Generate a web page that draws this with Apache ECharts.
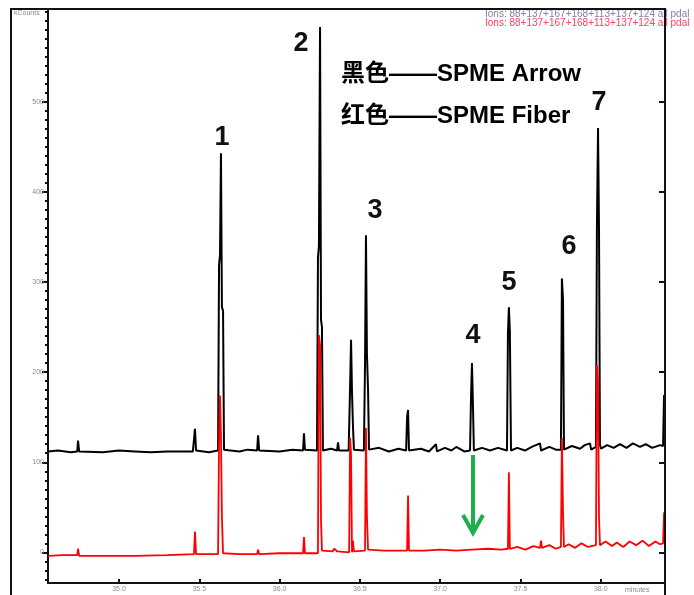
<!DOCTYPE html>
<html>
<head>
<meta charset="utf-8">
<script src="https://cdn.jsdelivr.net/npm/echarts@6/dist/echarts.min.js"></script>
<style>
html,body{margin:0;padding:0;background:#fff;}
#main{width:694px;height:595px;}
</style>
</head>
<body>
<div id="main"></div>
<script>
// 时间刻度 (minutes)
var xTicks = [35.0, 35.5, 36.0, 36.5, 37.0, 37.5, 38.0];
var yTicks = [0, 100, 200, 300, 400, 500];
var yMinor = [-30,-20,-10,10,20,30,40,50,60,70,80,90,110,120,130,140,150,160,170,180,190,
              210,220,230,240,250,260,270,280,290,310,320,330,340,350,360,370,380,390,
              410,420,430,440,450,460,470,480,490,510,520,530,540,550,560,570,580,590,600];

// 黑色 SPME Arrow  [minutes, kCounts]
var blackTrace = [
  [34.558,112],[34.620,113],[34.700,111],[34.740,112],[34.745,124],[34.752,112],[34.900,111],[35.000,113],
  [35.100,112],[35.200,111],[35.300,112],[35.460,112],[35.467,125],[35.473,137],[35.480,113],[35.560,111],
  [35.617,113],[35.623,319],[35.629,330],[35.635,443],[35.641,272],[35.648,268],[35.654,114],[35.750,112],
  [35.800,114],[35.860,113],[35.866,130],[35.873,113],[36.000,112],[36.080,114],[36.146,113],[36.152,132],
  [36.158,114],[36.233,113],[36.239,327],[36.245,340],[36.252,583],[36.258,258],[36.264,250],[36.270,113],
  [36.320,115],[36.358,113],[36.364,122],[36.370,113],[36.430,113],[36.439,183],[36.445,236],[36.451,178],
  [36.457,140],[36.463,114],[36.525,113],[36.532,208],[36.538,352],[36.544,220],[36.551,180],[36.557,114],
  [36.620,116],[36.680,112],[36.740,115],[36.788,113],[36.794,150],[36.800,158],[36.806,113],[36.880,115],
  [36.930,112],[36.974,120],[36.980,112],[37.030,116],[37.070,113],[37.100,117],[37.150,112],[37.186,113],
  [37.192,171],[37.198,210],[37.204,165],[37.210,113],[37.260,116],[37.310,113],[37.360,116],[37.416,113],
  [37.422,243],[37.428,272],[37.434,245],[37.441,113],[37.480,116],[37.528,113],[37.570,117],[37.622,121],
  [37.628,113],[37.680,117],[37.720,114],[37.752,114],[37.758,304],[37.765,280],[37.771,114],[37.820,118],
  [37.871,115],[37.900,119],[37.933,121],[37.940,114],[37.970,117],[37.976,360],[37.983,471],[37.989,360],
  [37.995,120],[38.001,115],[38.040,119],[38.080,116],[38.120,120],[38.160,116],[38.200,121],[38.244,117],
  [38.280,120],[38.320,116],[38.369,119],[38.388,118],[38.394,174],[38.400,174]
];

// 红色 SPME Fiber  [minutes, kCounts]
var redTrace = [
  [34.558,-4],[34.650,-3],[34.740,-3],[34.745,4],[34.752,-4],[34.900,-4],[35.100,-4],[35.300,-3],
  [35.467,-2],[35.473,23],[35.480,-2],[35.617,-2],[35.623,120],[35.629,174],[35.635,130],[35.641,39],
  [35.648,-1],[35.750,-2],[35.860,-2],[35.866,3],[35.873,-2],[36.000,-1],[36.146,-1],[36.152,17],
  [36.158,-1],[36.239,-1],[36.245,241],[36.252,230],[36.258,36],[36.264,2],[36.330,1],[36.340,4],
  [36.360,1],[36.433,0],[36.439,127],[36.445,110],[36.451,0],[36.457,13],[36.463,1],[36.532,2],
  [36.538,138],[36.544,40],[36.551,3],[36.650,2],[36.794,2],[36.800,63],[36.806,2],[36.900,2],
  [37.000,3],[37.100,2],[37.198,3],[37.204,3],[37.300,4],[37.380,3],[37.422,4],[37.428,89],
  [37.434,4],[37.480,6],[37.530,3],[37.580,7],[37.622,5],[37.628,13],[37.634,5],[37.680,8],
  [37.720,4],[37.752,6],[37.758,127],[37.765,44],[37.771,6],[37.800,9],[37.840,5],[37.880,10],
  [37.920,6],[37.970,8],[37.976,208],[37.983,190],[37.989,40],[37.995,8],[38.030,12],[38.070,7],
  [38.100,11],[38.140,6],[38.180,12],[38.220,8],[38.260,13],[38.300,7],[38.340,12],[38.369,9],
  [38.388,10],[38.394,44],[38.400,44]
];

var myChart = echarts.init(document.getElementById('main'));
var peakFont = {fontSize: 27, fontWeight: 'bold', fill: '#111', fontFamily: 'Liberation Sans', align: 'center', verticalAlign: 'middle'};
var legendFont = {fontSize: 24, fontWeight: 'bold', fill: '#000', fontFamily: '"Liberation Sans", "Noto Sans CJK SC"'};

var option = {
  animation: false,
  backgroundColor: '#fff',
  grid: {left: 48, right: 29, top: 9, bottom: 12},
  xAxis: [{
    type: 'value', min: 34.558, max: 38.4,
    axisLine: {onZero: false, lineStyle: {color: '#111', width: 2}},
    axisTick: {inside: true, length: 4, customValues: xTicks, lineStyle: {color: '#111', width: 2}},
    axisLabel: {customValues: xTicks, margin: 3, formatter: function (v) { return v.toFixed(1); }, fontSize: 7, color: '#8a8a9a'},
    splitLine: {show: false}
  }],
  yAxis: [{
    type: 'value', min: -34, max: 603,
    axisLine: {show: true, lineStyle: {color: '#111', width: 2}},
    axisTick: {show: true, length: 6, customValues: yTicks, lineStyle: {color: '#111', width: 2}},
    axisLabel: {customValues: yTicks, margin: 4, fontSize: 7, color: '#8a8a9a'},
    splitLine: {show: false}
  }, {
    type: 'value', min: -34, max: 603, position: 'left',
    axisLine: {show: false},
    axisTick: {show: true, length: 3, customValues: yMinor, lineStyle: {color: '#111', width: 2}},
    axisLabel: {show: false},
    splitLine: {show: false}
  }, {
    type: 'value', min: -34, max: 603, position: 'right',
    axisLine: {show: true, lineStyle: {color: '#111', width: 2}},
    axisTick: {show: true, inside: true, length: 6, customValues: yTicks, lineStyle: {color: '#111', width: 2}},
    axisLabel: {show: false},
    splitLine: {show: false}
  }],
  series: [{
    name: 'SPME Arrow', type: 'line', data: blackTrace,
    showSymbol: false, lineStyle: {color: '#000', width: 2}, z: 2
  }, {
    name: 'SPME Fiber', type: 'line', data: redTrace,
    showSymbol: false, lineStyle: {color: '#ff0000', width: 1.8}, z: 3
  }],
  graphic: [
    {type: 'rect', shape: {x: 11, y: 9, width: 654, height: 592}, style: {fill: 'none', stroke: '#111', lineWidth: 2}, z: 10},
    {type: 'text', left: 14, top: 10, style: {text: 'kCounts', fontSize: 7, fill: '#8a8a9a'}},
    {type: 'text', left: 625, top: 587, style: {text: 'minutes', fontSize: 7, fill: '#8a8a9a'}},
    {type: 'text', left: 485, top: 9, style: {text: 'Ions: 88+137+167+168+113+137+124 all pdal', fontSize: 10, fill: '#8a7aa8'}},
    {type: 'text', left: 485, top: 18, style: {text: 'Ions: 88+137+167+168+113+137+124 all pdal', fontSize: 10, fill: '#ff4060'}},
    {type: 'text', left: 341, top: 62, style: Object.assign({text: '黑色——SPME Arrow'}, legendFont)},
    {type: 'text', left: 341, top: 104, style: Object.assign({text: '红色——SPME Fiber'}, legendFont)},
    {type: 'text', x: 222, y: 138, style: Object.assign({text: '1'}, peakFont)},
    {type: 'text', x: 301, y: 44, style: Object.assign({text: '2'}, peakFont)},
    {type: 'text', x: 375, y: 211, style: Object.assign({text: '3'}, peakFont)},
    {type: 'text', x: 473, y: 336, style: Object.assign({text: '4'}, peakFont)},
    {type: 'text', x: 509, y: 283, style: Object.assign({text: '5'}, peakFont)},
    {type: 'text', x: 569, y: 247, style: Object.assign({text: '6'}, peakFont)},
    {type: 'text', x: 599, y: 103, style: Object.assign({text: '7'}, peakFont)},
    {type: 'line', shape: {x1: 473, y1: 455, x2: 473, y2: 530}, style: {stroke: '#1fae4b', lineWidth: 4}, z: 11},
    {type: 'polyline', shape: {points: [[463, 515], [473, 533], [483, 515]]}, style: {stroke: '#1fae4b', lineWidth: 4, fill: 'none'}, z: 11}
  ]
};
myChart.setOption(option);
window.onresize = function () { myChart.resize(); };
</script>
</body>
</html>
